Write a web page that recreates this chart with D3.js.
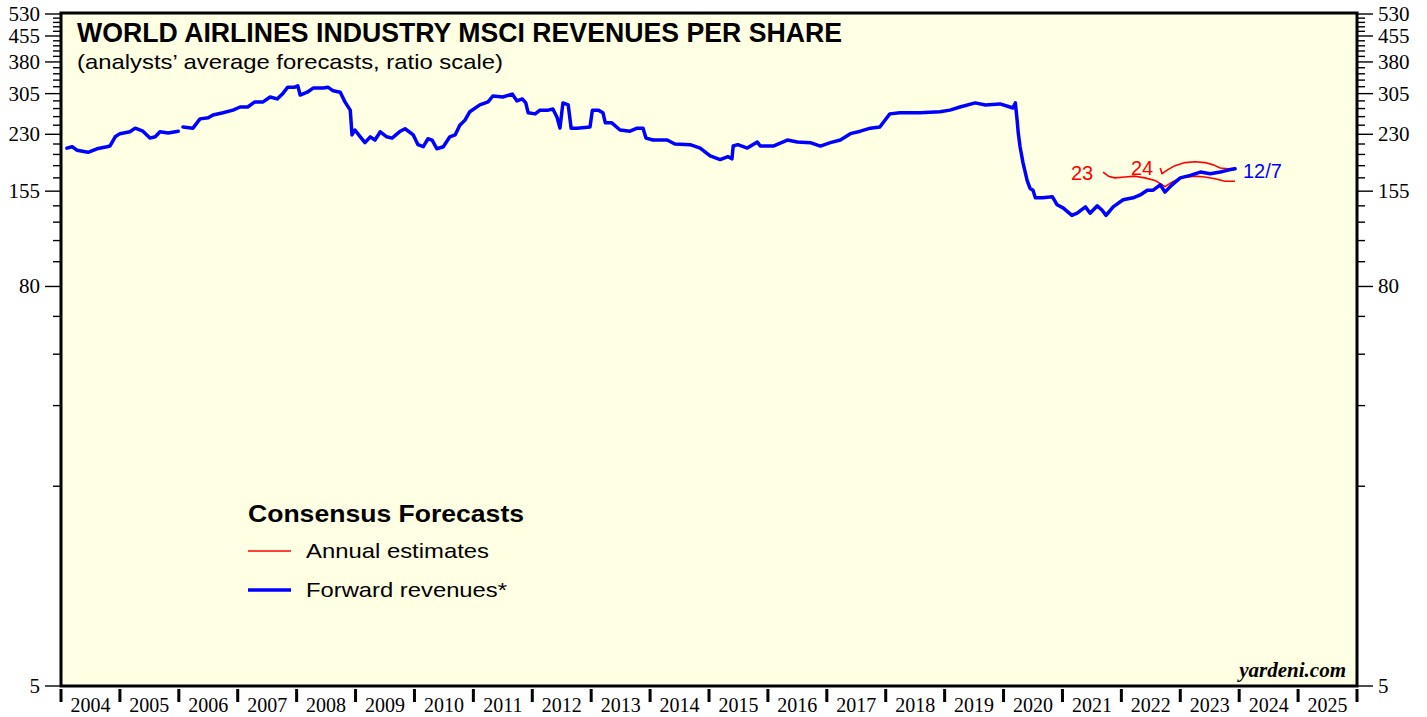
<!DOCTYPE html>
<html>
<head>
<meta charset="utf-8">
<script src="https://d3js.org/d3.v7.min.js"></script>
<style>
  body { margin: 0; background: #fff; }
  svg { display: block; }
</style>
</head>
<body>
<svg id="chart" width="1427" height="717"></svg>
<script>
var years = d3.range(2004, 2026);
var yTickValues = d3.range(5, 531, 15);
var yLabelValues = [5, 80, 155, 230, 305, 380, 455, 530];

// forward revenues (decimal year, value); null = gap in series
var fwdYear = [2004.10,2004.19,2004.27,2004.46,2004.61,2004.78,2004.83,2004.92,
  2005.00,2005.17,2005.26,2005.39,2005.51,2005.60,2005.68,2005.82,2005.99,2006.03,
  2006.07,2006.24,2006.36,2006.50,2006.58,2006.75,2006.92,
  2007.04,2007.17,2007.29,2007.43,2007.55,2007.67,2007.77,2007.85,2007.97,
  2008.02,2008.06,2008.18,2008.28,2008.45,2008.53,2008.62,2008.74,2008.82,2008.91,2008.94,2008.99,
  2009.08,2009.16,2009.25,2009.33,2009.42,2009.53,2009.62,2009.76,2009.84,2009.98,
  2010.06,2010.15,2010.23,2010.30,2010.38,2010.49,2010.60,2010.69,2010.77,2010.86,2010.94,
  2011.11,2011.25,2011.33,2011.50,2011.66,2011.74,2011.83,2011.89,2011.93,
  2012.05,2012.13,2012.27,2012.35,2012.42,2012.47,2012.52,2012.61,2012.66,2012.76,2012.98,
  2013.02,2013.12,2013.20,2013.24,2013.35,2013.49,2013.66,2013.78,2013.88,2013.93,
  2014.05,2014.29,2014.42,2014.68,2014.85,
  2015.02,2015.19,2015.32,2015.39,2015.41,2015.49,2015.65,2015.82,2015.87,
  2016.09,2016.33,2016.50,2016.72,2016.89,
  2017.06,2017.23,2017.40,2017.57,2017.74,2017.90,2017.99,
  2018.07,2018.24,2018.58,2018.92,
  2019.09,2019.26,2019.52,2019.69,2019.94,
  2020.11,2020.16,2020.20,2020.23,2020.25,2020.28,2020.33,2020.40,2020.45,2020.50,2020.54,2020.66,2020.83,2020.91,
  2021.01,2021.16,2021.25,2021.39,2021.47,2021.59,2021.67,2021.74,2021.86,
  2022.03,2022.20,2022.32,2022.44,2022.54,2022.66,2022.74,2022.86,
  2023.00,2023.17,2023.34,2023.51,2023.68,2023.85,2023.93];
var fwdRev = [209,211,206,203,208,211,212,226,
  231,234,240,235,224,226,234,232,235,null,
  242,240,256,258,263,267,272,
  278,278,288,288,298,294,306,319,319,
  322,302,308,317,317,319,311,308,288,272,229,237,
  226,217,226,221,234,226,224,235,239,229,
  214,211,223,221,208,211,226,229,245,254,269,
  282,288,300,298,304,290,294,286,267,
  265,272,272,274,259,240,286,282,240,240,242,
  272,272,267,249,249,237,235,240,240,224,
  221,221,215,214,209,
  198,193,197,194,212,214,209,218,212,
  212,221,218,217,212,
  217,221,231,235,240,242,254,
  265,267,267,269,
  272,278,286,282,284,
  278,276,286,254,232,211,189,167,158,156,148,148,149,141,
  138,131,133,139,133,140,136,131,139,
  146,148,151,156,156,162,154,162,
  170,173,177,175,177,180,181];

var est23Year = [2021.69,2021.78,2021.89,2022.06,2022.23,2022.40,2022.57,2022.69,2022.74,2022.86,2023.00,2023.25,2023.42,2023.59,2023.76,2023.93];
var est23 = [177,172,170,171,172,170,167,162,160,165,170,172,171,169,166,166];
var est24Year = [2022.66,2022.69,2022.79,2022.91,2023.08,2023.25,2023.42,2023.56,2023.68,2023.81,2023.93];
var est24 = [182,175,180,185,189,190,189,186,182,181,182];

var svg = d3.select("#chart");
var plotLeft = 61, plotRight = 1357, plotTop = 14, plotBottom = 686;
var sans = "'Liberation Sans', Arial, sans-serif";
var serif = "'Liberation Serif', 'Times New Roman', serif";

var x = d3.scaleLinear().domain([2004, 2026]).range([plotLeft, plotRight]);
var y = d3.scaleLog().domain([5, 530]).range([plotBottom, plotTop]);

svg.append("rect")
  .attr("x", plotLeft).attr("y", plotTop - 1)
  .attr("width", plotRight - plotLeft).attr("height", plotBottom - plotTop + 1)
  .attr("fill", "#ffffe3");

// y ticks both sides
function yAxis(side) {
  var sign = side === "left" ? -1 : 1;
  var x0 = side === "left" ? plotLeft : plotRight;
  var g = svg.append("g");
  g.selectAll("line")
    .data(yTickValues)
    .enter().append("line")
    .attr("x1", x0)
    .attr("x2", function(d) { return x0 + sign * (yLabelValues.indexOf(d) >= 0 ? 16 : 8); })
    .attr("y1", function(d) { return y(d); })
    .attr("y2", function(d) { return y(d); })
    .attr("stroke", "#000")
    .attr("stroke-width", 1.4);
  g.selectAll("text")
    .data(yLabelValues)
    .enter().append("text")
    .attr("x", side === "left" ? 40 : 1378)
    .attr("y", function(d) { return y(d) + 7; })
    .attr("text-anchor", side === "left" ? "end" : "start")
    .style("font-family", serif)
    .style("font-size", "21px")
    .text(function(d) { return d; });
}
yAxis("left");
yAxis("right");

// x axis
var xg = svg.append("g");
xg.selectAll("line")
  .data(years.concat([2026]))
  .enter().append("line")
  .attr("x1", function(d) { return x(d); })
  .attr("x2", function(d) { return x(d); })
  .attr("y1", 689)
  .attr("y2", 702)
  .attr("stroke", "#000")
  .attr("stroke-width", 3);
xg.selectAll("text")
  .data(years)
  .enter().append("text")
  .attr("x", function(d) { return x(d + 0.5); })
  .attr("y", 712)
  .attr("text-anchor", "middle")
  .style("font-family", serif)
  .style("font-size", "20px")
  .text(function(d) { return d; });

// series
var line = d3.line()
  .defined(function(d) { return d[1] !== null; })
  .x(function(d) { return x(d[0]); })
  .y(function(d) { return y(d[1]); });

function pairs(a, b) { return a.map(function(v, i) { return [v, b[i]]; }); }

[pairs(est23Year, est23), pairs(est24Year, est24)].forEach(function(s) {
  svg.append("path")
    .datum(s)
    .attr("d", line)
    .attr("fill", "none")
    .attr("stroke", "#ff0000")
    .attr("stroke-width", 1.6)
    .attr("stroke-linejoin", "round");
});

svg.append("path")
  .datum(pairs(fwdYear, fwdRev))
  .attr("d", line)
  .attr("fill", "none")
  .attr("stroke", "#0000ff")
  .attr("stroke-width", 3.5)
  .attr("stroke-linejoin", "round")
  .attr("stroke-linecap", "round");

// frame
svg.append("rect")
  .attr("x", plotLeft).attr("y", plotTop - 1)
  .attr("width", plotRight - plotLeft).attr("height", plotBottom - plotTop + 1)
  .attr("fill", "none")
  .attr("stroke", "#000")
  .attr("stroke-width", 3);

// titles
svg.append("text")
  .attr("x", 77).attr("y", 42)
  .attr("textLength", 765).attr("lengthAdjust", "spacingAndGlyphs")
  .style("font-family", sans).style("font-weight", "bold").style("font-size", "27px")
  .text("WORLD AIRLINES INDUSTRY MSCI REVENUES PER SHARE");
svg.append("text")
  .attr("x", 77).attr("y", 69)
  .attr("textLength", 426).attr("lengthAdjust", "spacingAndGlyphs")
  .style("font-family", sans).style("font-size", "21px")
  .text("(analysts\u2019 average forecasts, ratio scale)");

// legend
svg.append("text")
  .attr("x", 248).attr("y", 522)
  .attr("textLength", 276).attr("lengthAdjust", "spacingAndGlyphs")
  .style("font-family", sans).style("font-weight", "bold").style("font-size", "24px")
  .text("Consensus Forecasts");
var legend = [
  { label: "Annual estimates", color: "#ff0000", width: 1.6, y: 551, len: 183 },
  { label: "Forward revenues*", color: "#0000ff", width: 3.5, y: 590, len: 201 }
];
legend.forEach(function(d) {
  svg.append("line")
    .attr("x1", 248).attr("x2", 291)
    .attr("y1", d.y).attr("y2", d.y)
    .attr("stroke", d.color).attr("stroke-width", d.width);
  svg.append("text")
    .attr("x", 306).attr("y", d.y + 7)
    .attr("textLength", d.len).attr("lengthAdjust", "spacingAndGlyphs")
    .style("font-family", sans).style("font-size", "21px")
    .text(d.label);
});

// series labels
svg.append("text")
  .attr("x", 1071).attr("y", 180)
  .style("font-family", sans).style("font-size", "20px").attr("fill", "#ff0000")
  .text("23");
svg.append("text")
  .attr("x", 1131).attr("y", 175)
  .style("font-family", sans).style("font-size", "20px").attr("fill", "#ff0000")
  .text("24");
svg.append("text")
  .attr("x", 1243).attr("y", 178)
  .style("font-family", sans).style("font-size", "20px").attr("fill", "#0000ff")
  .text("12/7");

svg.append("text")
  .attr("x", 1346).attr("y", 677)
  .attr("text-anchor", "end")
  .style("font-family", serif).style("font-weight", "bold").style("font-style", "italic")
  .style("font-size", "21px")
  .text("yardeni.com");
</script>
</body>
</html>
